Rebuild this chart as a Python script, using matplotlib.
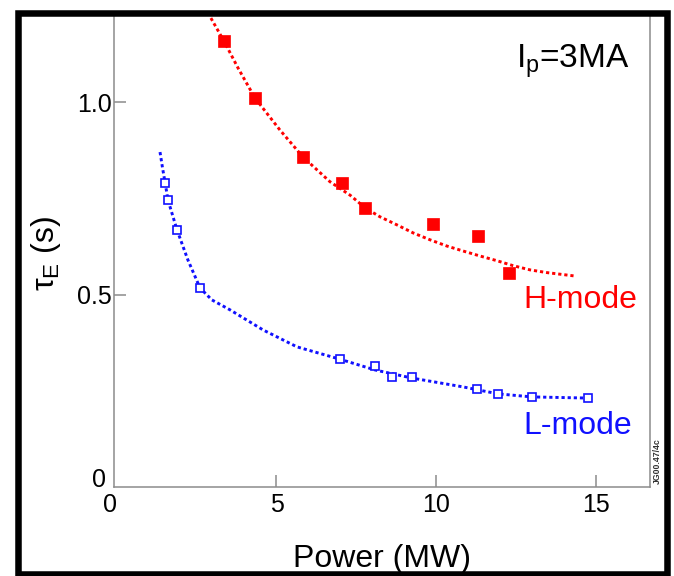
import matplotlib
matplotlib.use("Agg")
import matplotlib.pyplot as plt
from matplotlib.patches import Rectangle

plt.rcParams['font.family'] = ['Liberation Sans', 'DejaVu Sans']
plt.rcParams['mathtext.fontset'] = 'custom'
plt.rcParams['mathtext.rm'] = 'Liberation Sans'
plt.rcParams['mathtext.it'] = 'Liberation Sans:italic'

RED = '#ff0000'
BLUE = '#1010ff'
GREY = '#8c8c8c'

# H-mode measurements (filled squares)
h_power = [3.36, 4.33, 5.83, 7.05, 7.77, 9.89, 11.30, 12.27]
h_tau = [1.158, 1.010, 0.857, 0.790, 0.725, 0.683, 0.652, 0.556]

# L-mode measurements (open squares)
l_power = [1.52, 1.61, 1.89, 2.61, 6.98, 8.08, 8.61, 9.23, 11.27, 11.92, 12.98, 14.73]
l_tau = [0.790, 0.745, 0.668, 0.517, 0.332, 0.314, 0.286, 0.286, 0.255, 0.242, 0.234, 0.231]

# dotted fit curves
h_fit_power = [2.95, 3.36, 3.80, 4.33, 5.11, 5.83, 6.67, 7.30, 7.77, 8.23, 8.76, 9.27,
               9.80, 10.32, 10.83, 11.36, 11.88, 12.39, 12.92, 13.44, 14.33]
h_fit_tau = [1.218, 1.158, 1.088, 1.010, 0.927, 0.857, 0.793, 0.758, 0.725, 0.702, 0.681, 0.660,
             0.642, 0.626, 0.613, 0.600, 0.588, 0.575, 0.564, 0.557, 0.548]

l_fit_power = [1.36, 1.44, 1.52, 1.61, 1.89, 2.23, 2.61, 2.98, 3.55, 4.58, 5.64, 6.98, 8.08,
               9.23, 10.83, 11.92, 12.98, 14.73]
l_fit_tau = [0.870, 0.828, 0.790, 0.745, 0.668, 0.590, 0.517, 0.486, 0.460, 0.408, 0.364, 0.332, 0.304,
             0.283, 0.260, 0.242, 0.234, 0.231]

x_ticks = [5, 10, 15]
y_ticks = [0.5, 1.0]

fig = plt.figure(figsize=(6.74, 5.76), dpi=100)
ax = fig.add_axes([0.16914, 0.15451, 0.79525, 0.8212])

ax.plot(h_fit_power, h_fit_tau, color=RED, lw=2.1, linestyle=(0, (1.1, 1.0)))
ax.plot(l_fit_power, l_fit_tau, color=BLUE, lw=2.1, linestyle=(0, (1.1, 1.0)))
ax.plot(h_power, h_tau, 's', color=RED, ms=8.4, mec=RED, mew=0.5)
ax.plot(l_power, l_tau, 's', mfc='white', mec=BLUE, ms=6.4, mew=1.2)

ax.set_xlim(-0.078, 16.672)
ax.set_ylim(0, 1.2286)

# the zero labels sit a little off the origin in the original, so draw them by hand
ax.set_xticks(x_ticks, [str(v) for v in x_ticks])
ax.set_yticks(y_ticks, ['%.1f' % v for v in y_ticks])
ax.text(-0.0075, -0.0524, '0', transform=ax.transAxes, ha='center', va='baseline', fontsize=18)
ax.text(-0.0149, 0.0, '0', transform=ax.transAxes, ha='right', va='baseline', fontsize=18)

ax.tick_params(direction='in', length=8.6, width=1.1, color=GREY, labelsize=18)
ax.tick_params(axis='x', pad=4)
ax.tick_params(axis='y', pad=1.5)
for side in ['left', 'bottom', 'right']:
    ax.spines[side].set_color(GREY)
    ax.spines[side].set_linewidth(1.1)
ax.spines['top'].set_visible(False)

ax.set_xlabel('Power (MW)', fontsize=23, va='center')
ax.xaxis.set_label_coords(0.5, -0.153)
ax.set_ylabel(r'$\mathregular{\tau_E}$ (s)', fontsize=23, va='center')
ax.yaxis.set_label_coords(-0.127, 0.494)

ax.text(0.961, 0.8875, r'$\mathregular{I_p}$=3MA', transform=ax.transAxes,
        ha='right', va='baseline', fontsize=24)
ax.text(0.763, 0.378, 'H-mode', color=RED, transform=ax.transAxes,
        ha='left', va='baseline', fontsize=23)
ax.text(0.763, 0.1125, 'L-mode', color=BLUE, transform=ax.transAxes,
        ha='left', va='baseline', fontsize=23)

fig.text(0.976, 0.1988, 'JG00.47/4c', rotation=90, ha='center', va='center',
         fontsize=6.3, fontweight='bold', color='#333333')

# black slide frame around the plot
fig.add_artist(Rectangle((0.0267, 0.0035), 0.9622, 0.9739, transform=fig.transFigure,
                         fill=False, ec='black', lw=4.7, zorder=10))

plt.savefig('out.png', dpi=100)
